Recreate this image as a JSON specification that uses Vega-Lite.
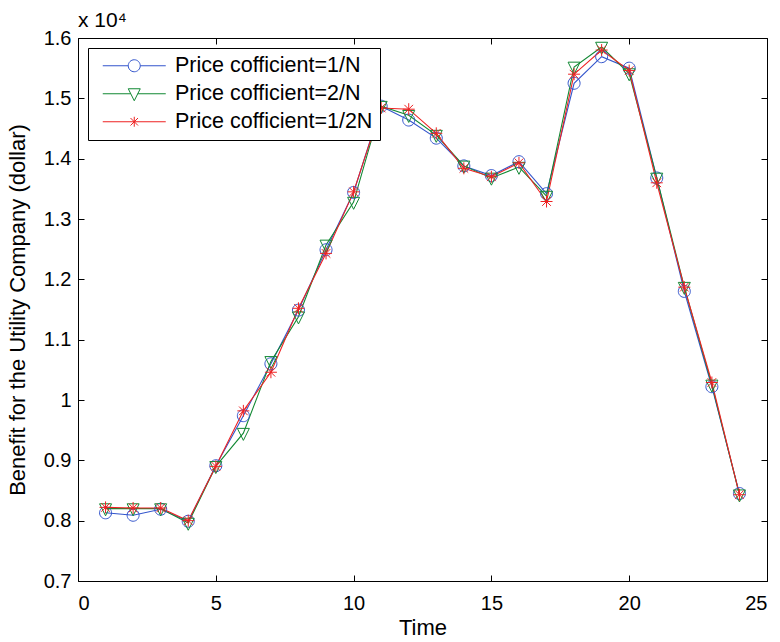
{
  "$schema": "https://vega.github.io/schema/vega-lite/v6.json",
  "autosize": "none",
  "padding": {"left": 78, "top": 38, "right": 13, "bottom": 61},
  "width": 689,
  "height": 543,
  "background": "white",
  "title": {"text": "x 10⁴", "anchor": "start", "frame": "group", "fontSize": 21, "font": "Liberation Sans", "fontWeight": "normal", "offset": 0, "dy": 3, "color": "black"},
  "config": {
    "view": {"stroke": "black", "strokeWidth": 1},
    "axis": {"labelColor": "black", "titleColor": "black", "labelFont": "Liberation Sans", "titleFont": "Liberation Sans", "labelFontSize": 20, "titleFontSize": 22, "titleFontWeight": "normal"}
  },
  "data": {"values": [
    {"t":1,"s":"Price cofficient=1/N","v":8130},{"t":2,"s":"Price cofficient=1/N","v":8090},{"t":3,"s":"Price cofficient=1/N","v":8190},{"t":4,"s":"Price cofficient=1/N","v":7990},{"t":5,"s":"Price cofficient=1/N","v":8910},{"t":6,"s":"Price cofficient=1/N","v":9740},{"t":7,"s":"Price cofficient=1/N","v":10600},{"t":8,"s":"Price cofficient=1/N","v":11490},{"t":9,"s":"Price cofficient=1/N","v":12490},{"t":10,"s":"Price cofficient=1/N","v":13440},{"t":11,"s":"Price cofficient=1/N","v":14870},{"t":12,"s":"Price cofficient=1/N","v":14640},{"t":13,"s":"Price cofficient=1/N","v":14340},{"t":14,"s":"Price cofficient=1/N","v":13880},{"t":15,"s":"Price cofficient=1/N","v":13720},{"t":16,"s":"Price cofficient=1/N","v":13950},{"t":17,"s":"Price cofficient=1/N","v":13420},{"t":18,"s":"Price cofficient=1/N","v":15250},{"t":19,"s":"Price cofficient=1/N","v":15690},{"t":20,"s":"Price cofficient=1/N","v":15500},{"t":21,"s":"Price cofficient=1/N","v":13680},{"t":22,"s":"Price cofficient=1/N","v":11800},{"t":23,"s":"Price cofficient=1/N","v":10220},{"t":24,"s":"Price cofficient=1/N","v":8450},
    {"t":1,"s":"Price cofficient=2/N","v":8200},{"t":2,"s":"Price cofficient=2/N","v":8200},{"t":3,"s":"Price cofficient=2/N","v":8200},{"t":4,"s":"Price cofficient=2/N","v":7960},{"t":5,"s":"Price cofficient=2/N","v":8900},{"t":6,"s":"Price cofficient=2/N","v":9450},{"t":7,"s":"Price cofficient=2/N","v":10640},{"t":8,"s":"Price cofficient=2/N","v":11380},{"t":9,"s":"Price cofficient=2/N","v":12570},{"t":10,"s":"Price cofficient=2/N","v":13280},{"t":11,"s":"Price cofficient=2/N","v":14870},{"t":12,"s":"Price cofficient=2/N","v":14720},{"t":13,"s":"Price cofficient=2/N","v":14390},{"t":14,"s":"Price cofficient=2/N","v":13880},{"t":15,"s":"Price cofficient=2/N","v":13680},{"t":16,"s":"Price cofficient=2/N","v":13860},{"t":17,"s":"Price cofficient=2/N","v":13380},{"t":18,"s":"Price cofficient=2/N","v":15520},{"t":19,"s":"Price cofficient=2/N","v":15850},{"t":20,"s":"Price cofficient=2/N","v":15410},{"t":21,"s":"Price cofficient=2/N","v":13680},{"t":22,"s":"Price cofficient=2/N","v":11870},{"t":23,"s":"Price cofficient=2/N","v":10250},{"t":24,"s":"Price cofficient=2/N","v":8430},
    {"t":1,"s":"Price cofficient=1/2N","v":8220},{"t":2,"s":"Price cofficient=1/2N","v":8210},{"t":3,"s":"Price cofficient=1/2N","v":8210},{"t":4,"s":"Price cofficient=1/2N","v":8000},{"t":5,"s":"Price cofficient=1/2N","v":8900},{"t":6,"s":"Price cofficient=1/2N","v":9820},{"t":7,"s":"Price cofficient=1/2N","v":10460},{"t":8,"s":"Price cofficient=1/2N","v":11520},{"t":9,"s":"Price cofficient=1/2N","v":12430},{"t":10,"s":"Price cofficient=1/2N","v":13450},{"t":11,"s":"Price cofficient=1/2N","v":14840},{"t":12,"s":"Price cofficient=1/2N","v":14820},{"t":13,"s":"Price cofficient=1/2N","v":14420},{"t":14,"s":"Price cofficient=1/2N","v":13840},{"t":15,"s":"Price cofficient=1/2N","v":13700},{"t":16,"s":"Price cofficient=1/2N","v":13930},{"t":17,"s":"Price cofficient=1/2N","v":13290},{"t":18,"s":"Price cofficient=1/2N","v":15400},{"t":19,"s":"Price cofficient=1/2N","v":15800},{"t":20,"s":"Price cofficient=1/2N","v":15460},{"t":21,"s":"Price cofficient=1/2N","v":13600},{"t":22,"s":"Price cofficient=1/2N","v":11870},{"t":23,"s":"Price cofficient=1/2N","v":10290},{"t":24,"s":"Price cofficient=1/2N","v":8430}
  ]},
  "layer": [
    {
      "mark": {"type": "line", "strokeWidth": 1.1},
      "encoding": {
        "x": {"field": "t", "type": "quantitative", "scale": {"domain": [0, 25], "nice": false, "zero": false},
              "axis": {"orient": "bottom", "title": "Time", "tickCount": 5, "format": "d", "grid": false, "domainOpacity": 0, "offset": -6, "tickSize": 6, "tickColor": "black", "labelPadding": 12, "titlePadding": 4}},
        "y": {"field": "v", "type": "quantitative", "scale": {"domain": [7000, 16000], "nice": false, "zero": false},
              "axis": {"orient": "left", "title": "Benefit for the Utility Company (dollar)", "tickCount": 9, "labelExpr": "format(datum.value/10000, '.1~f')", "grid": false, "domainOpacity": 0, "offset": -6, "tickSize": 6, "tickColor": "black", "labelPadding": 7, "titlePadding": 14}},
        "color": {"field": "s", "type": "nominal",
                  "scale": {"domain": ["Price cofficient=1/N", "Price cofficient=2/N", "Price cofficient=1/2N"], "range": ["#3355cc", "#118833", "#ee2222"]},
                  "legend": {"title": null, "orient": "none", "legendX": 10, "legendY": 10, "strokeColor": "black", "fillColor": "white", "padding": 7, "rowPadding": 5,
                             "labelFont": "Liberation Sans", "labelFontSize": 21.5, "labelColor": "black", "labelLimit": 400, "symbolSize": 100, "symbolOffset": 28.5, "labelOffset": 30, "symbolStrokeWidth": 1,
                             "encode": {"symbols": {"update": {
                               "fill": {"value": "transparent"},
                               "shape": {"signal": "datum.value == 'Price cofficient=1/N' ? 'M-6.3,0L-1.2,0M1.2,0L6.3,0M1.2,0A1.2,1.2,0,1,1,-1.2,0A1.2,1.2,0,1,1,1.2,0' : datum.value == 'Price cofficient=2/N' ? 'M-6.3,0L-0.7,0M0.7,0L6.3,0M-1.2,-1L1.2,-1L0,1.4Z' : 'M-6.3,0L6.3,0M0,-1L0,1M-0.75,-0.75L0.75,0.75M-0.75,0.75L0.75,-0.75'"}
                             }}}}}
      }
    },
    {
      "transform": [{"filter": "datum.s == 'Price cofficient=1/N'"}],
      "mark": {"type": "point", "filled": false, "strokeWidth": 1, "size": 144, "opacity": 1, "shape": "M1,0A1,1,0,1,1,-1,0A1,1,0,1,1,1,0"},
      "encoding": {
        "x": {"field": "t", "type": "quantitative", "axis": null},
        "y": {"field": "v", "type": "quantitative", "axis": null},
        "color": {"field": "s", "type": "nominal", "legend": null}
      }
    },
    {
      "transform": [{"filter": "datum.s == 'Price cofficient=2/N'"}],
      "mark": {"type": "point", "filled": false, "strokeWidth": 1, "size": 144, "opacity": 1, "shape": "M-1,-0.8L1,-0.8L0,1.2Z"},
      "encoding": {
        "x": {"field": "t", "type": "quantitative", "axis": null},
        "y": {"field": "v", "type": "quantitative", "axis": null},
        "color": {"field": "s", "type": "nominal", "legend": null}
      }
    },
    {
      "transform": [{"filter": "datum.s == 'Price cofficient=1/2N'"}],
      "mark": {"type": "point", "filled": false, "strokeWidth": 1, "size": 144, "opacity": 1, "shape": "M0,-1L0,1M-1,0L1,0M-0.72,-0.72L0.72,0.72M-0.72,0.72L0.72,-0.72"},
      "encoding": {
        "x": {"field": "t", "type": "quantitative", "axis": null},
        "y": {"field": "v", "type": "quantitative", "axis": null},
        "color": {"field": "s", "type": "nominal", "legend": null}
      }
    },
    {
      "mark": {"type": "point", "opacity": 0},
      "encoding": {
        "x": {"field": "t", "type": "quantitative", "axis": {"orient": "top", "title": null, "labels": false, "tickCount": 5, "grid": false, "domainOpacity": 0, "offset": -6, "tickSize": 6, "tickColor": "black"}},
        "y": {"field": "v", "type": "quantitative", "axis": {"orient": "right", "title": null, "labels": false, "tickCount": 9, "grid": false, "domainOpacity": 0, "offset": -6, "tickSize": 6, "tickColor": "black"}}
      }
    }
  ],
  "resolve": {"axis": {"x": "independent", "y": "independent"}}
}
